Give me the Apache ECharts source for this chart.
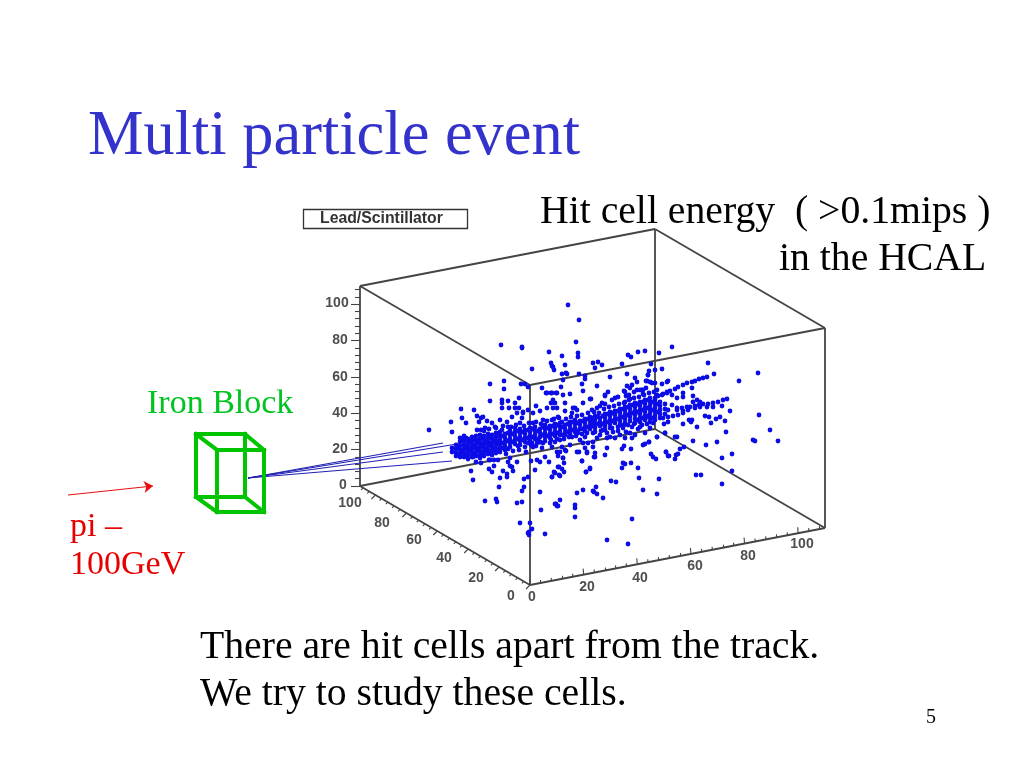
<!DOCTYPE html>
<html><head><meta charset="utf-8">
<style>html,body{margin:0;padding:0;background:#fff}#c{width:1024px;height:768px}</style>
<script src="https://cdn.jsdelivr.net/npm/echarts@6/dist/echarts.min.js"></script>
</head><body><div id="c"></div>
<script>
// Picture-plane values
var hitColumns = [
[452,448,452],[456,445,449,453,456],[460,438,442,446,450,454,457],[464,436,441,445,449,453,457],
[468,439,443,447,451,455,459],[472,437,441,445,449,453,457],[476,436,440,444,448,452,456],
[480,435,439,443,447,451,455,458],[484,436,440,444,448,452,456],[488,434,438,442,446,450,454],
[492,435,439,443,447,451,455],[496,433,437,441,445,449,453],[500,432,436,440,444,448,452],
[505,434,438,442,446,450],[510,431,435,439,443,447],[515,432,436,440,444],[520,429,433,437,441,445],
[525,430,434,438,442,447],[530,428,432,436,440],[535,427,431,435,439],[540,429,433,437,442],
[545,425,429,433,437],[550,426,430,434,438],[555,424,428,432,436],[560,423,427,431,435],
[565,425,429,433],[570,422,426,430,434],[575,420,424,428,432],[580,421,425,429],[585,419,423,427,431],
[590,417,421,425,429],[595,416,420,424,428],[600,418,422,426],[605,414,418,422,426,430],
[610,412,416,420,424,428],[615,411,415,419,423],[620,409,413,417,421,425],[625,407,411,415,419,423],
[630,405,409,413,417,421],[635,403,407,411,415,419,423],[640,402,406,410,414,418,422],
[645,400,404,408,412,416,420],[650,398,402,406,410,414,418,422],[655,400,404,408,412,416,420],
[660,402,406,410,414,418],[665,404,409,414]
];
var hitsCoreFill = [
[458,447],[462,440],[462,451],[466,438],[466,447],[466,455],[470,441],[470,449],[474,439],[474,447],[474,455],[478,442],[478,450],[482,437],[482,445],[482,453],[486,442],[486,450],[490,436],[490,444],[490,452],[494,441],[494,449],[498,435],[498,443],[498,451],
[503,436],[503,443],[503,448],[508,433],[508,441],[508,449],[513,434],[513,442],[518,431],[518,439],[518,446],[523,432],[523,440],[528,430],[528,438],[533,429],[533,437],[538,431],[538,439],[543,427],[543,435],[548,428],[548,436],[553,426],[553,434],[558,425],[558,433],[563,427],[563,435],[568,424],[568,432],[573,422],[573,430],[578,423],[578,431],[583,421],[583,429],[588,419],[588,427],[593,418],[593,426],[598,417],[598,424],[603,416],[603,424],[608,414],[608,422],[613,413],[613,421],[618,411],[618,419],[623,409],[623,417],[628,407],[628,415],[633,405],[633,413],[638,404],[638,412],[638,420],[643,402],[643,410],[643,418],[648,400],[648,408],[648,416],[653,402],[653,410],[653,418],[658,404],[658,412]
];
var hitsFlanks = [
[484,431],[489,429],[496,428],[503,426],[511,427],[516,425],[524,426],[529,423],[536,422],[541,424],[547,421],[554,419],[559,418],[566,419],[571,417],[577,416],[582,415],[588,413],[594,412],[599,413],[604,409],[609,407],[614,406],[619,404],[624,403],[629,400],[634,398],[639,397],[644,395],[649,393],[654,392],[612,400],[618,397],[626,396],[634,392],[640,390],[646,388],
[506,454],[513,451],[519,450],[526,452],[531,445],[536,446],[545,441],[551,440],[557,439],[564,439],[569,437],[576,436],[582,434],[587,433],[595,432],[601,431],[607,433],[612,428],[618,427],[624,425],[628,425],[634,424],[642,425],[647,424],[653,423],[618,431],[626,432],[638,429],[650,428]
];
var hitsBranches = [
[707,377],[703,378],[699,379],[695,381],[692,382],[687,383],[683,385],[678,387],[675,389],[670,391],[667,392],[663,394],[658,396],[655,398],
[727,399],[723,400],[718,402],[713,403],[708,404],[703,404],[700,402],[699,405],[695,406],[690,407],[687,407],[682,408],[677,408],[672,405],[668,410],
[722,406],[713,407],[707,407],[700,407],[695,408],[688,410],[683,411],[677,410],
[683,413],[678,415],[673,416],[668,417],[663,418],[668,422],[664,424],
[692,388],[683,393],[677,398],[697,400],[693,402],[683,397],[693,396],[672,395]
];
var hitsLowerBand = [
[543,443],[550,443],[540,442],[555,442],[560,440],[565,435],[572,437],[578,433],[585,437],[593,442],[580,440],[570,445],[562,447],[552,447],[542,448],[533,447],[528,443],[532,443],[537,443],[588,443],[577,452],[587,452],[565,450],[557,452],[563,458],
[593,422],[603,430],[613,432],[623,428],[632,427],[640,427],[600,435],[610,437],[620,435],[630,433],[635,435],[645,433],[593,433],[615,438],[607,438],[597,438],[625,438],[632,438],[657,437],[648,417],[665,433]
];
var hitsAbove = [
[501,345],[522,348],[522,347],[549,352],[551,363],[552,366],[554,370],[532,369],[490,384],[504,381],[504,389],[521,384],[525,384],[528,387],[542,388],[546,393],[551,393],[556,393],[490,401],[502,400],[502,403],[508,401],[519,398],[515,403],[502,408],[509,408],[515,408],[519,408],[523,412],[461,409],[474,410],[536,406],[553,400],[551,403],[555,403],[547,408],[553,408],[540,411],[533,413],[528,410],
[568,305],[579,320],[576,342],[578,353],[578,357],[562,356],[553,367],[565,365],[562,374],[566,373],[567,374],[563,380],[579,374],[585,376],[585,379],[593,363],[598,362],[602,365],[595,368],[610,377],[622,364],[628,355],[631,357],[638,352],[645,351],[659,353],[651,364],[662,369],[627,374],[649,371],[655,370],[648,375],[646,381],[650,382],[667,382],[635,378],[637,382],[632,385],[627,386],[630,388],[624,391],[637,390],[643,390],[643,394],[655,383],[582,384],[597,386],[561,387],[583,391],[557,393],[552,393],[563,395],[570,394],[608,392],[605,396],[615,398],[590,399],[565,403],[583,403],[602,403],[605,404],[600,406],[553,402],[565,411],[573,408],[577,410],[597,408],[592,410],[557,408],[625,402],[630,399],[657,395],[662,395],[667,393],
[672,347],[708,363],[714,374],[758,373],[739,381],
[429,430],[451,422],[452,432],[462,418],[466,423],[477,416],[481,418],[483,417],[479,422],[487,421],[485,428],[477,430],[481,430],[492,423],[500,420],[495,427],[507,422],[508,427],[523,413],[517,413],[512,417],[522,418],[572,413],[558,417],[552,420],[562,422],[543,420],[533,423],[520,423],[515,428],[502,430],[575,408],[547,393],
[605,395],[591,399],[629,395],[625,392],[642,390],[657,390],[662,384],[668,381],[652,383],[647,381],[648,375]
];
var hitsRight = [
[730,411],[759,415],[770,430],[778,441],[753,440],[755,441],[726,432],[717,442],[706,445],[693,441],[732,454],[722,458],[732,471],[722,484],[696,475],[701,475],[684,447],[680,449],[678,454],[676,455],[675,459],[669,456],[666,452],[665,433],[675,437],[677,437],[657,437],[649,442],[643,445],
[683,424],[689,420],[691,422],[692,420],[705,416],[709,417],[716,419],[720,417],[711,423],[725,421],[697,427]
];
var hitsBelow = [
[471,471],[473,480],[489,469],[492,472],[494,466],[503,471],[500,478],[507,474],[507,477],[513,471],[499,487],[485,501],[496,499],[497,502],[517,503],[522,502],[522,491],[524,487],[524,479],[528,477],[535,470],[520,523],[530,523],[532,529],[528,533],[529,535],[529,532],[545,534],[541,510],[540,492],[556,504],[558,506],[555,473],[552,477],[558,467],[559,475],[549,462],[540,462],[531,461],[537,460],[545,457],[517,462],[508,462],[510,466],[494,460],[489,460],[481,463],[476,462],[473,457],[498,460],[490,460],[510,458],[512,467],
[560,452],[566,451],[558,456],[563,458],[564,463],[559,467],[562,469],[564,472],[554,472],[552,477],[560,476],[579,452],[587,453],[595,453],[594,457],[582,461],[605,455],[590,469],[586,472],[623,463],[625,464],[631,463],[622,468],[638,468],[639,478],[611,481],[616,482],[659,479],[596,487],[593,491],[594,492],[597,494],[583,490],[577,493],[603,498],[643,490],[657,494],[560,500],[555,504],[557,506],[575,505],[575,508],[575,517],[632,519],[607,540],[628,544],[622,449],[624,446],[631,449],[651,454],[653,457],[656,459],[666,452],[668,456],[645,444],[649,442],[607,448],[583,443],[585,448],[593,447],[590,468],[586,472],[582,461],[595,457]
];
var beamEnds = [[443,443],[457,444],[443,452],[452,461]];
var beamStart = [248,478];
var axisTicks = [0,20,40,60,80,100];
var xTickLabelSpots = [[532,597],[587,587],[640,578],[695,566],[748,556],[802,544]];
var yTickLabelSpots = [[511,596],[476,578],[444,558],[414,540],[382,523],[350,503]];
var zTickLabelSpots = [[343,485],[340,449],[340,413],[340,377],[340,340],[337,303]];
var boxOrigin = [530,585], boxXEnd = [825,528], boxYEnd = [360,486], boxHeight = 200, axisRange = 110;

function project(x,y,z){
  return [boxOrigin[0]+(boxXEnd[0]-boxOrigin[0])*x/axisRange+(boxYEnd[0]-boxOrigin[0])*y/axisRange,
          boxOrigin[1]+(boxXEnd[1]-boxOrigin[1])*x/axisRange+(boxYEnd[1]-boxOrigin[1])*y/axisRange-boxHeight*z/axisRange];
}
function seg(a,b){return {coords:[a,b]};}
var R=axisRange, edges=[], ticks=[];
[[0,0,0,R,0,0],[0,0,0,0,R,0],[R,0,0,R,R,0],[0,R,0,R,R,0],
 [0,0,R,R,0,R],[0,0,R,0,R,R],[R,0,R,R,R,R],[0,R,R,R,R,R],
 [0,0,0,0,0,R],[R,0,0,R,0,R],[0,R,0,0,R,R],[R,R,0,R,R,R]].forEach(function(e){
  edges.push(seg(project(e[0],e[1],e[2]),project(e[3],e[4],e[5])));
});
for(var t=0;t<=R;t+=4){
  var major=t%20===0, p;
  p=project(t,0,0); ticks.push(seg(p,[p[0]+(major?-0.5:-0.3),p[1]+(major?-6:-3)]));
  p=project(0,t,0); ticks.push(seg(p,[p[0]+(major?-4:-2),p[1]+(major?4:2)]));
  p=project(0,R,t); ticks.push(seg(p,[p[0]+(major?-9:-5),p[1]]));
}
var block = [
 [[196,434],[245,434]],[[245,434],[245,497]],[[245,497],[196,497]],[[196,497],[196,434]],
 [[217,450],[264,450]],[[264,450],[264,512]],[[264,512],[217,512]],[[217,512],[217,450]],
 [[196,434],[217,450]],[[245,434],[264,450]],[[245,497],[264,512]],[[196,497],[217,512]]
].map(function(s){return seg(s[0],s[1]);});
var hits=[];
hitColumns.forEach(function(c){for(var i=1;i<c.length;i++)hits.push([c[0],c[i]]);});
hits=hits.concat(hitsCoreFill,hitsFlanks,hitsBranches,hitsLowerBand,hitsAbove,hitsRight,hitsBelow);
function tickLabels(spots){return {type:'scatter',symbolSize:0,silent:true,z:5,
  data:spots.map(function(s,i){return {value:s,label:{show:true,position:'inside',formatter:String(axisTicks[i]),
    fontFamily:'Liberation Sans',fontWeight:'bold',fontSize:14,color:'#222'}};})};}
function text(str,x,y,size,color,extra){
  var st={text:str,fontFamily:'Liberation Serif',fontSize:size,fill:color,verticalAlign:'middle',textAlign:'left'};
  if(extra)for(var k in extra)st[k]=extra[k];
  return {type:'text',left:x,top:y-size/2,style:st,z:20};
}
var chart=echarts.init(document.getElementById('c'),null,{renderer:'canvas'});
chart.setOption({
  animation:false,backgroundColor:'#fff',
  grid:{left:0,right:0,top:0,bottom:0},
  xAxis:{type:'value',min:0,max:1024,show:false},
  yAxis:{type:'value',min:0,max:768,inverse:true,show:false},
  series:[
   {type:'lines',coordinateSystem:'cartesian2d',silent:true,z:2,data:edges,lineStyle:{color:'#444',width:1.8,opacity:1}},
   {type:'lines',coordinateSystem:'cartesian2d',silent:true,z:2,data:ticks,lineStyle:{color:'#444',width:1.1,opacity:1}},
   {type:'lines',coordinateSystem:'cartesian2d',silent:true,z:3,data:beamEnds.map(function(e){return seg(beamStart,e);}),lineStyle:{color:'#2020b4',width:1.2,opacity:1}},
   {type:'lines',coordinateSystem:'cartesian2d',silent:true,z:4,data:block,lineStyle:{color:'#00c400',width:4,opacity:1,cap:'square'}},
   {type:'lines',coordinateSystem:'cartesian2d',silent:true,z:4,symbol:['none','arrow'],symbolSize:9,
     data:[seg([68,495],[153,486])],lineStyle:{color:'#e81010',width:1.2,opacity:1}},
   {type:'scatter',symbolSize:4.8,silent:true,z:6,data:hits,itemStyle:{color:'#0c0ce6',opacity:1}},
   tickLabels(xTickLabelSpots),tickLabels(yTickLabelSpots),tickLabels(zTickLabelSpots)
  ],
  graphic:[
   text('Multi particle event',88,138,62.4,'#3333cc'),
   text('Hit cell energy  ( >0.1mips )',540,212,39.7,'#000'),
   text('in the HCAL',779,259,39.7,'#000'),
   text('There are hit cells apart from the track.',200,647,39.7,'#000'),
   text('We try to study these cells.',200,694,39.7,'#000'),
   text('5',926,718,20,'#000'),
   text('Iron Block',147,404,34,'#00c420'),
   text('pi \u2013',70,527,34,'#e80000'),
   text('100GeV',70,565,34,'#e80000'),
   {type:'rect',shape:{x:303.5,y:209.5,width:164,height:19},style:{fill:'#fff',stroke:'#333',lineWidth:1.3},z:19},
   text('Lead/Scintillator',320,219,15.8,'#333',{fontFamily:'Liberation Sans',fontWeight:'bold'})
  ]
});
</script></body></html>
